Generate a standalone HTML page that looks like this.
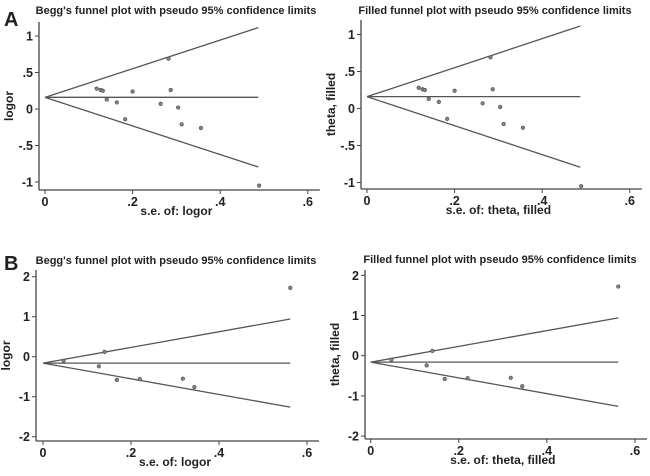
<!DOCTYPE html>
<html><head><meta charset="utf-8"><style>
body{margin:0;background:#fff;}
svg text{font-family:"Liberation Sans",Arial,sans-serif;font-weight:bold;fill:#222;}
</style></head><body>
<svg id="fig" width="650" height="471" viewBox="0 0 650 471">
<text x="4" y="26" font-size="20">A</text>
<text x="4" y="270" font-size="20">B</text>
</svg>
<script>
// Panel A data (Begg's and filled share same points)
const seA = [0.118,0.127,0.132,0.141,0.164,0.183,0.200,0.264,0.282,0.287,0.304,0.312,0.356,0.489];
const effA = [0.28,0.26,0.25,0.13,0.09,-0.14,0.24,0.07,0.69,0.26,0.02,-0.21,-0.26,-1.05];
const centerA = 0.16;
const seMaxA = 0.487;
const yTicksA = [1,0.5,0,-0.5,-1];
const yTickLabelsA = ["1",".5","0","-.5","-1"];
// Panel B data
const seB = [0.047,0.140,0.127,0.168,0.220,0.318,0.344,0.562];
const effB = [-0.10,0.12,-0.24,-0.58,-0.56,-0.55,-0.76,1.72];
const centerB = -0.16;
const seMaxB = 0.562;
const yTicksB = [2,1,0,-1,-2];
const yTickLabelsB = ["2","1","0","-1","-2"];
const xTicks = [0,0.2,0.4,0.6];
const xTickLabels = ["0",".2",".4",".6"];

const NS="http://www.w3.org/2000/svg";
const svg=document.getElementById('fig');
function mk(tag,attrs,parent){const e=document.createElementNS(NS,tag);for(const k in attrs)e.setAttribute(k,attrs[k]);(parent||svg).appendChild(e);return e;}

const panels=[
 {id:'a-left',title:"Begg's funnel plot with pseudo 95% confidence limits",ylab:'logor',xlab:'s.e. of: logor',
  x0:45,xScale:438,y0:109,yScale:73,axX:39,axY:190,yTop:22,titleX:176,titleY:14,se:seA,eff:effA,c:centerA,m:seMaxA,yt:yTicksA,ytl:yTickLabelsA},
 {id:'a-right',title:"Filled funnel plot with pseudo 95% confidence limits",ylab:'theta, filled',xlab:'s.e. of: theta, filled',
  x0:367,xScale:438,y0:108.5,yScale:74,axX:361,axY:189,yTop:20,titleX:495,titleY:14,se:seA,eff:effA,c:centerA,m:seMaxA,yt:yTicksA,ytl:yTickLabelsA},
 {id:'b-left',title:"Begg's funnel plot with pseudo 95% confidence limits",ylab:'logor',xlab:'s.e. of: logor',
  x0:43,xScale:440,y0:356.7,yScale:40,axX:36,axY:441,yTop:270,titleX:176,titleY:264,se:seB,eff:effB,c:centerB,m:seMaxB,yt:yTicksB,ytl:yTickLabelsB},
 {id:'b-right',title:"Filled funnel plot with pseudo 95% confidence limits",ylab:'theta, filled',xlab:'s.e. of: theta, filled',
  x0:370.7,xScale:440.5,y0:355.7,yScale:40.2,axX:365,axY:439,yTop:270,titleX:500,titleY:263,se:seB,eff:effB,c:centerB,m:seMaxB,yt:yTicksB,ytl:yTickLabelsB}
];

panels.forEach(p=>{
  const g=mk('g',{});
  
  
  const X=v=>p.x0+v*p.xScale, Y=v=>p.y0-v*p.yScale;
  const t=mk('text',{x:p.titleX,y:p.titleY,'font-size':11,'text-anchor':'middle'},g);t.textContent=p.title;
  
  
  const ya=mk('line',{x1:p.axX,y1:p.yTop,x2:p.axX,y2:p.axY,stroke:'#444','stroke-width':1.3},g);
  
  
  const xa=mk('line',{x1:p.axX,y1:p.axY,x2:X(0.6)+12,y2:p.axY,stroke:'#444','stroke-width':1.3},g);
  
  
  p.yt.forEach((v,i)=>{
    mk('line',{x1:p.axX-4,y1:Y(v),x2:p.axX,y2:Y(v),stroke:'#444'},g);
    const l=mk('text',{x:p.axX-6,y:Y(v)+4.5,'font-size':12.5,'text-anchor':'end'},g);l.textContent=p.ytl[i];
    
    
  });
  xTicks.forEach((v,i)=>{
    mk('line',{x1:X(v),y1:p.axY,x2:X(v),y2:p.axY+4,stroke:'#444'},g);
    const l=mk('text',{x:X(v),y:p.axY+16,'font-size':12.5,'text-anchor':'middle'},g);l.textContent=xTickLabels[i];
    
    
  });
  const xl=mk('text',{x:X(0.3),y:p.axY+25,'font-size':12,'text-anchor':'middle'},g);xl.textContent=p.xlab;
  
  
  const ym=(p.yTop+p.axY)/2;
  const yl=mk('text',{x:p.axX-26,y:ym,'font-size':12,'text-anchor':'middle',transform:`rotate(-90 ${p.axX-26} ${ym})`},g);yl.textContent=p.ylab;
  
  
  const up=mk('line',{x1:X(0),y1:Y(p.c),x2:X(p.m),y2:Y(p.c+1.96*p.m),stroke:'#555','stroke-width':1.3},g);
  
  
  const lo=mk('line',{x1:X(0),y1:Y(p.c),x2:X(p.m),y2:Y(p.c-1.96*p.m),stroke:'#555','stroke-width':1.3},g);
  
  
  const ce=mk('line',{x1:X(0),y1:Y(p.c),x2:X(p.m),y2:Y(p.c),stroke:'#555','stroke-width':1.3},g);
  
  
  p.se.forEach((s,i)=>{
    const c=mk('circle',{cx:X(s),cy:Y(p.eff[i]),r:1.7,fill:'#888',stroke:'#555','stroke-width':0.8},g);
    
    
  });
});
</script>
</body></html>
